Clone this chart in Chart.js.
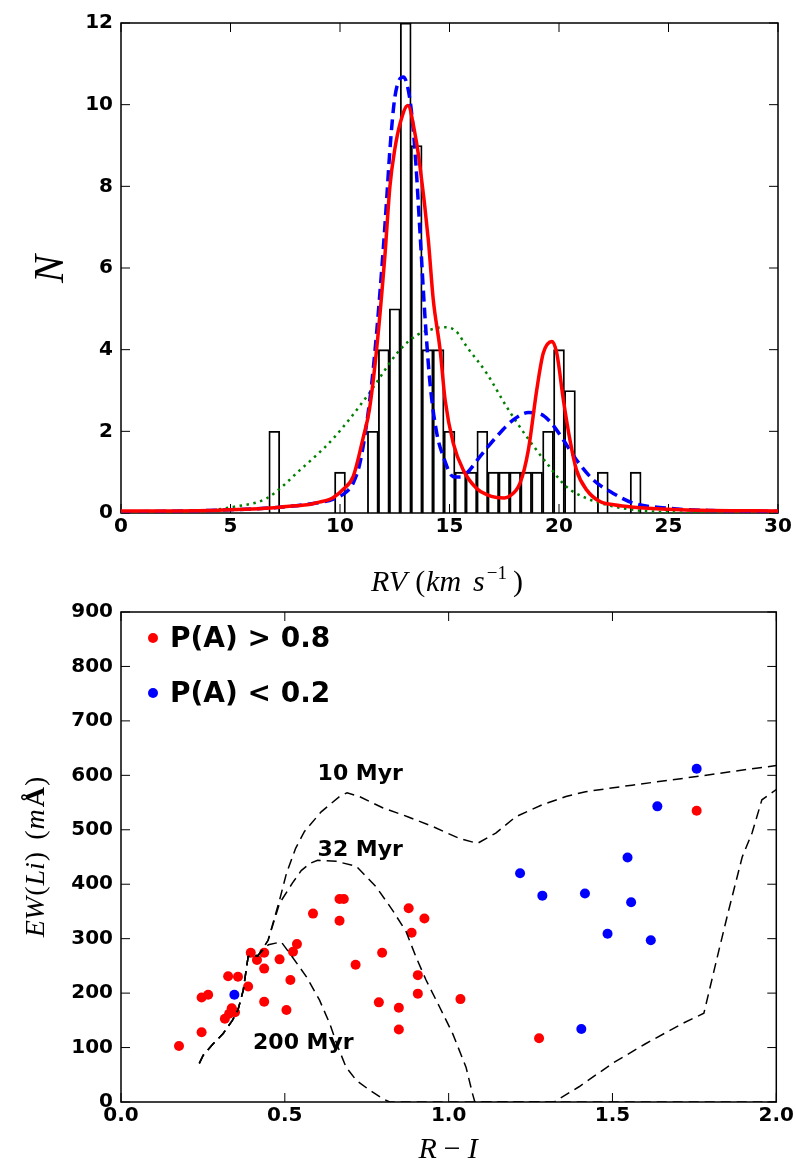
<!DOCTYPE html>
<html>
<head>
<meta charset="utf-8">
<script src="https://cdn.jsdelivr.net/npm/chart.js@4.4.1/dist/chart.umd.min.js"></script>
<style>
  html, body { margin: 0; padding: 0; background: #fff; }
  #page { position: relative; width: 796px; height: 1171px; overflow: hidden; }
  canvas { position: absolute; left: 0; }
</style>
</head>
<body>
<div id="page">
  <canvas id="rvChart" width="796" height="620" style="top:0"></canvas>
  <canvas id="liChart" width="796" height="611" style="top:560px"></canvas>
</div>
<script>
// ---- top panel: RV histogram + fits ----
const binCenters = [7.0, 10.0, 11.5, 12.0, 12.5, 13.0, 13.5, 14.0, 14.5, 15.0, 15.5, 16.0, 16.5, 17.0, 17.5, 18.0, 18.5, 19.0, 19.5, 20.0, 20.5, 22.0, 23.5];
const binCounts  = [2, 1, 2, 4, 5, 12, 9, 4, 4, 2, 1, 1, 2, 1, 1, 1, 1, 1, 2, 4, 3, 1, 1];

// two-component fit (solid red)
const redRV = [0, 2, 4, 5, 6, 7, 8, 8.5, 9, 9.5, 9.7, 10.15, 10.6, 11.07, 11.34, 11.67, 12.05, 12.28, 12.5, 12.75, 13.1, 13.42, 13.65, 14.03, 14.26, 14.57, 14.8, 15.17, 15.63, 16.24, 16.7, 17.15, 17.5, 17.76, 18.22, 18.6, 18.98, 19.28, 19.68, 19.9, 20.2, 20.5, 20.8, 21.27, 21.87, 22.5, 23.4, 24.9, 27, 30];
const redN  = [0.05, 0.05, 0.06, 0.08, 0.1, 0.13, 0.18, 0.2, 0.26, 0.33, 0.38, 0.58, 0.89, 1.87, 2.52, 4.0, 6.3, 8.0, 8.9, 9.55, 9.98, 9.3, 8.5, 6.7, 5.22, 4.0, 2.77, 1.71, 1.05, 0.6, 0.45, 0.38, 0.37, 0.42, 0.73, 1.54, 3.0, 3.91, 4.2, 3.91, 2.77, 1.79, 1.05, 0.56, 0.28, 0.2, 0.14, 0.09, 0.06, 0.05];

// alternative fit (dashed blue)
const blueRV = [0, 2, 4, 5, 6, 7, 8, 9, 9.7, 10.3, 10.6, 10.91, 11.22, 11.45, 11.67, 11.98, 12.13, 12.28, 12.51, 12.89, 13.2, 13.42, 13.65, 13.88, 14.11, 14.42, 14.72, 15.17, 15.5, 15.78, 16.39, 17.15, 17.91, 18.6, 19.13, 19.59, 20.2, 20.8, 21.57, 22.48, 23.4, 24.9, 27, 30];
const blueN  = [0.03, 0.04, 0.06, 0.08, 0.1, 0.13, 0.18, 0.25, 0.34, 0.52, 0.73, 1.22, 2.2, 3.18, 4.4, 6.5, 7.67, 8.9, 10.2, 10.68, 10.1, 8.9, 6.9, 4.81, 3.18, 1.95, 1.38, 0.89, 0.88, 0.97, 1.38, 1.87, 2.28, 2.46, 2.43, 2.24, 1.79, 1.3, 0.81, 0.48, 0.24, 0.12, 0.06, 0.04];

// single gaussian (dotted green)
const greenRV = [0, 2, 4, 5.13, 6.65, 8.17, 9.7, 11.22, 12.74, 13.5, 14.2, 14.8, 15.3, 15.78, 16.7, 17.61, 18.52, 19.44, 20.35, 21.26, 22.18, 23.5, 25, 27, 30];
const greenN  = [0.0, 0.01, 0.06, 0.15, 0.36, 1.05, 1.83, 2.85, 4.0, 4.35, 4.5, 4.55, 4.45, 4.08, 3.42, 2.6, 1.87, 1.22, 0.64, 0.36, 0.2, 0.07, 0.02, 0.0, 0.0];

// ---- bottom panel: EW(Li) vs R-I ----
const memberRI = [0.177, 0.246, 0.246, 0.266, 0.327, 0.357, 0.317, 0.330, 0.338, 0.348, 0.388, 0.396, 0.415, 0.437, 0.437, 0.437, 0.484, 0.517, 0.505, 0.525, 0.537, 0.586, 0.667, 0.68, 0.667, 0.716, 0.797, 0.787, 0.848, 0.848, 0.878, 0.926, 0.887, 0.906, 0.906, 1.036, 1.276, 1.757];
const memberEW = [103, 128, 192, 197, 231, 230, 153, 162, 172, 165, 212, 274, 261, 274, 245, 184, 262, 224, 169, 276, 290, 346, 373, 373, 333, 252, 274, 183, 173, 133, 356, 337, 311, 233, 199, 189, 117, 535];

const nonMemberRI = [0.346, 1.218, 1.286, 1.405, 1.416, 1.485, 1.546, 1.557, 1.617, 1.637, 1.757];
const nonMemberEW = [197, 420, 379, 134, 383, 309, 449, 367, 297, 543, 612];

const iso10RI  = [0.239, 0.251, 0.28, 0.312, 0.34, 0.357, 0.373, 0.388, 0.418, 0.449, 0.484, 0.505, 0.533, 0.56, 0.611, 0.667, 0.69, 0.728, 0.8, 0.875, 0.951, 1.033, 1.088, 1.144, 1.205, 1.286, 1.358, 1.418, 1.56, 1.723, 1.865, 2.0];
const iso10EW  = [71, 86, 106, 126, 150, 169, 205, 267, 268, 297, 371, 420, 466, 497, 533, 561, 568, 561, 540, 524, 506, 484, 475, 494, 524, 546, 561, 570, 582, 595, 607, 618];
const iso32RI  = [0.239, 0.251, 0.28, 0.312, 0.34, 0.357, 0.373, 0.388, 0.418, 0.449, 0.484, 0.523, 0.55, 0.576, 0.6, 0.657, 0.718, 0.779, 0.829, 0.87, 0.9, 0.931, 0.972, 1.012, 1.053, 1.073, 1.08, 1.322, 1.398, 1.5, 1.601, 1.713, 1.779, 1.825, 1.855, 1.896, 1.926, 1.956, 2.0];
const iso32EW  = [71, 86, 106, 126, 150, 169, 205, 267, 268, 297, 365, 402, 425, 438, 444, 442, 433, 395, 352, 313, 267, 224, 175, 126, 64, 15, 0, 0, 28, 71, 107, 144, 163, 279, 353, 450, 494, 555, 574];
const iso200RI = [0.239, 0.251, 0.28, 0.312, 0.34, 0.357, 0.373, 0.388, 0.418, 0.45, 0.489, 0.515, 0.566, 0.606, 0.637, 0.662, 0.687, 0.718, 0.758, 0.799, 0.82, 2.0];
const iso200EW = [71, 86, 106, 126, 150, 169, 205, 267, 270, 289, 294, 273, 230, 187, 144, 101, 64, 40, 22, 6, 0, 0];

const isoLabels = ['10 Myr', '32 Myr', '200 Myr'];
const isoLabelRI = [0.600, 0.600, 0.403];
const isoLabelEW = [592, 452, 98];

const legendLabels = ['P(A) > 0.8', 'P(A) < 0.2'];

const TICK_FONT = { family: 'DejaVu Sans', weight: 'bold', size: 20 };
const TICK_LEN = 9;

function pts(xs, ys) {
  return xs.map((x, i) => ({ x, y: ys[i] }));
}

// inward ticks on all four sides + box, like the classic matplotlib look
function framePlugin(drawExtra) {
  return {
    id: 'frame',
    beforeDatasetsDraw(chart) {
      const { ctx, chartArea: a, scales: { x, y } } = chart;
      ctx.save();
      ctx.strokeStyle = '#000';
      ctx.lineWidth = 1;
      ctx.beginPath();
      x.ticks.forEach(t => {
        const px = x.getPixelForValue(t.value);
        ctx.moveTo(px, a.bottom); ctx.lineTo(px, a.bottom - TICK_LEN);
        ctx.moveTo(px, a.top); ctx.lineTo(px, a.top + TICK_LEN);
      });
      y.ticks.forEach(t => {
        const py = y.getPixelForValue(t.value);
        ctx.moveTo(a.left, py); ctx.lineTo(a.left + TICK_LEN, py);
        ctx.moveTo(a.right, py); ctx.lineTo(a.right - TICK_LEN, py);
      });
      ctx.stroke();
      ctx.lineWidth = 1.5;
      ctx.strokeRect(a.left, a.top, a.right - a.left, a.bottom - a.top);
      ctx.restore();
    },
    afterDraw(chart) {
      drawExtra(chart.ctx, chart);
    }
  };
}

// draws a sequence of differently styled text pieces, centred on (cx, base)
function textRuns(ctx, runs, cx, base, vertical) {
  ctx.save();
  let total = 0;
  runs.forEach(r => {
    ctx.font = r.font;
    r.w = ctx.measureText(r.text).width;
    total += r.w + (r.gap || 0);
  });
  ctx.translate(cx, base);
  if (vertical) ctx.rotate(-Math.PI / 2);
  ctx.fillStyle = '#000';
  ctx.textBaseline = 'alphabetic';
  let x = -total / 2;
  runs.forEach(r => {
    ctx.font = r.font;
    x += r.gap || 0;
    ctx.fillText(r.text, x, r.dy || 0);
    x += r.w;
  });
  ctx.restore();
}

const IT = 'italic 30px "Liberation Serif"';
const RM = '30px "Liberation Serif"';

function scaleOpts(min, max, step, size, isX, fmt) {
  return {
    type: 'linear', min, max, offset: false,
    grid: { display: false, drawTicks: false },
    border: { display: false },
    ticks: {
      stepSize: step, color: '#000', font: TICK_FONT, padding: isX ? 2 : 8,
      maxRotation: 0, autoSkip: false,
      callback: fmt || (v => v)
    },
    afterFit: s => { if (isX) s.height = size; else s.width = size; }
  };
}

// ---------------- top chart ----------------
new Chart(document.getElementById('rvChart'), {
  type: 'bar',
  data: {
    datasets: [
      {
        type: 'line', data: pts(redRV, redN), borderColor: '#ff0000', borderWidth: 3.5,
        pointRadius: 0, cubicInterpolationMode: 'monotone', order: 1
      },
      {
        type: 'line', data: pts(blueRV, blueN), borderColor: '#0000ff', borderWidth: 3.5,
        borderDash: [11, 6], pointRadius: 0, cubicInterpolationMode: 'monotone', order: 2
      },
      {
        type: 'line', data: pts(greenRV, greenN), borderColor: '#008000', borderWidth: 2.5,
        borderDash: [2.5, 4.5], pointRadius: 0, cubicInterpolationMode: 'monotone', order: 3
      },
      {
        type: 'bar', data: pts(binCenters, binCounts), borderColor: '#000', borderWidth: 1.2,
        backgroundColor: 'rgba(255,255,255,0)', borderSkipped: 'start',
        categoryPercentage: 1, barPercentage: 1, order: 4
      }
    ]
  },
  options: {
    responsive: false,
    animation: false,
    events: [],
    layout: { padding: { top: 23, right: 18, left: 0, bottom: 0 } },
    plugins: { legend: { display: false }, tooltip: { enabled: false } },
    scales: {
      x: scaleOpts(0, 30, 5, 107, true),
      y: scaleOpts(0, 12, 2, 121, false)
    }
  },
  plugins: [framePlugin(ctx => {
    textRuns(ctx, [
      { text: 'RV', font: IT },
      { text: '(', font: RM, gap: 8 },
      { text: 'km', font: IT, gap: 1 },
      { text: 's', font: IT, gap: 12 },
      { text: '\u22121', font: '19px "Liberation Serif"', gap: 2, dy: -12 },
      { text: ')', font: RM, gap: 6 }
    ], 447, 591, false);
    textRuns(ctx, [{ text: 'N', font: 'italic 42px "Liberation Serif"' }], 63, 269, true);
  })]
});

// ---------------- bottom chart ----------------
const TOP2 = 560;
const isoStyle = { type: 'line', borderColor: '#000', borderWidth: 1.5, borderDash: [10, 6], pointRadius: 0, tension: 0, order: 1 };

new Chart(document.getElementById('liChart'), {
  type: 'scatter',
  data: {
    datasets: [
      Object.assign({ data: pts(iso10RI, iso10EW) }, isoStyle),
      Object.assign({ data: pts(iso32RI, iso32EW) }, isoStyle),
      Object.assign({ data: pts(iso200RI, iso200EW) }, isoStyle),
      {
        label: legendLabels[0], data: pts(memberRI, memberEW), backgroundColor: '#ff0000',
        borderWidth: 0, pointRadius: 5, pointHoverRadius: 5, order: 3
      },
      {
        label: legendLabels[1], data: pts(nonMemberRI, nonMemberEW), backgroundColor: '#0000ff',
        borderWidth: 0, pointRadius: 5, pointHoverRadius: 5, order: 2
      }
    ]
  },
  options: {
    responsive: false,
    animation: false,
    events: [],
    layout: { padding: { top: 612 - TOP2, right: 18, left: 0, bottom: 0 } },
    plugins: { legend: { display: false }, tooltip: { enabled: false } },
    scales: {
      x: scaleOpts(0, 2, 0.5, 611 - (1102 - TOP2), true, v => v.toFixed(1)),
      y: scaleOpts(0, 900, 100, 121, false)
    }
  },
  plugins: [framePlugin((ctx, chart) => {
    const { x, y } = chart.scales;
    ctx.save();
    ctx.fillStyle = '#000';
    ctx.font = 'bold 22px "DejaVu Sans"';
    ctx.textBaseline = 'alphabetic';
    isoLabels.forEach((t, i) => {
      ctx.fillText(t, x.getPixelForValue(isoLabelRI[i]), y.getPixelForValue(isoLabelEW[i]));
    });

    // legend inside the axes, top-left
    const sets = chart.data.datasets.slice(3);
    ctx.font = 'bold 28px "DejaVu Sans"';
    sets.forEach((ds, i) => {
      const cy = 638 - TOP2 + i * 55;
      ctx.fillStyle = ds.backgroundColor;
      ctx.beginPath();
      ctx.arc(153, cy, 5, 0, Math.PI * 2);
      ctx.fill();
      ctx.fillStyle = '#000';
      ctx.fillText(ds.label, 170, cy + 8.5);
    });
    ctx.restore();

    textRuns(ctx, [
      { text: 'R', font: IT },
      { text: '\u2212', font: RM, gap: 7 },
      { text: 'I', font: IT, gap: 7 }
    ], 448, 1158 - TOP2, false);
    textRuns(ctx, [
      { text: 'EW', font: 'italic 28px "Liberation Serif"' },
      { text: '(', font: '28px "Liberation Serif"', gap: 1 },
      { text: 'Li', font: 'italic 28px "Liberation Serif"', gap: 1 },
      { text: ')', font: '28px "Liberation Serif"', gap: 1 },
      { text: '(', font: '28px "Liberation Serif"', gap: 12 },
      { text: 'm', font: 'italic 28px "Liberation Serif"', gap: 1 },
      { text: '\u00c5', font: 'bold 28px "Liberation Serif"', gap: 2 },
      { text: ')', font: '28px "Liberation Serif"', gap: 1 }
    ], 44, 857 - TOP2, true);
  })]
});
</script>
</body>
</html>
